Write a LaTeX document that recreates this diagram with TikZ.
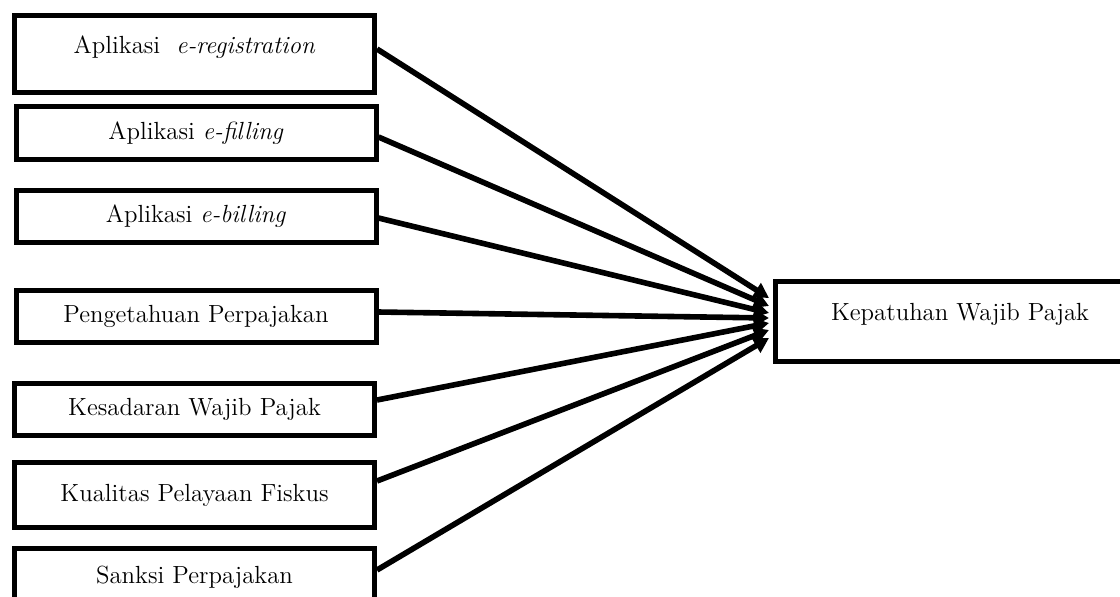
\documentclass[tikz,border=0pt]{standalone}
\usepackage{tikz}
\usetikzlibrary{calc,arrows.meta}
\tikzset{
  box/.style={draw=black, line width=2.5pt, inner sep=0pt, minimum width=180pt,
    font=\fontsize{12.4}{14}\selectfont, text height=8.5pt, text depth=2.5pt},
  hitext/.style={text height=8pt, text depth=9pt},
  link/.style={draw=black, line width=2.8pt, -{Triangle[length=7.5pt,width=8pt]}},
}
\begin{document}
\begin{tikzpicture}[x=0.5pt,y=-0.5pt]
  \useasboundingbox (0,0) rectangle (1120,596);
  \begin{scope}
  \clip (0,0) rectangle (1120,596);
  % variabel bebas
  \node[box,hitext,minimum height=38.5pt] (reg) at (194.5,54) {Aplikasi\ \ \textit{e-registration}};
  \node[box,minimum height=26.5pt] (fil) at (196,133) {Aplikasi \textit{e-filling}};
  \node[box,minimum height=26pt] (bil) at (196,216.5) {Aplikasi \textit{e-billing}};
  \node[box,minimum height=26pt] (pen) at (196,316.5) {Pengetahuan Perpajakan};
  \node[box,minimum height=26pt] (kes) at (194.5,409.5) {Kesadaran Wajib Pajak};
  \node[box,minimum height=32.5pt] (kua) at (194.5,495) {Kualitas Pelayaan Fiskus};
  \node[box,minimum height=28.5pt] (san) at (194.5,577) {Sanksi Perpajakan};
  % variabel terikat
  \node[box,hitext,minimum width=185pt,minimum height=40pt] (kep) at (960,321.5) {Kepatuhan Wajib Pajak};
  % panah
  \foreach \n/\s/\e in {reg/-5/298, fil/4/306, bil/1.5/313, pen/-4.5/318,
                        kes/-9.5/323, kua/-14/330, san/-7/338}
    \draw[link] ($(\n.east)+(0,\s)$) -- ($(kep.west)+(-3.5,\e-321.5)$);
  \end{scope}
\end{tikzpicture}
\end{document}
